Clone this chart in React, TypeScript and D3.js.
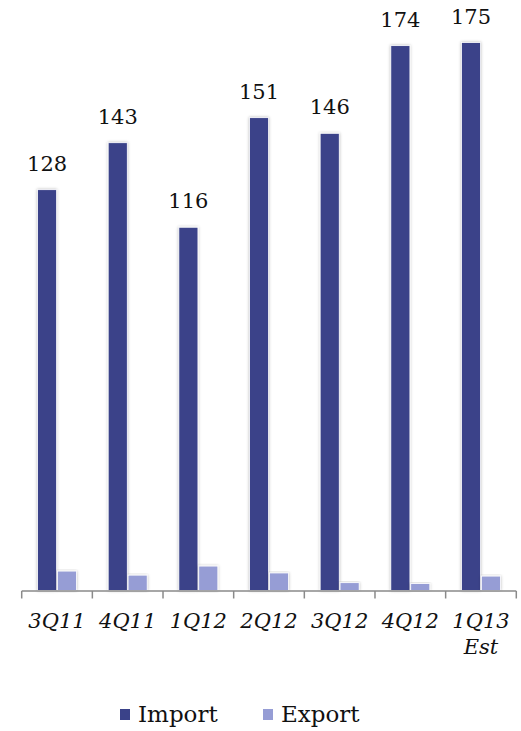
import React from "react";
import * as d3 from "d3";

// Quarterly volumes, import vs export
const categories: string[][] = [
  ["3Q11"],
  ["4Q11"],
  ["1Q12"],
  ["2Q12"],
  ["3Q12"],
  ["4Q12"],
  ["1Q13", "Est"],
];
const importValues = [128, 143, 116, 151, 146, 174, 175];
const exportValues = [6.2, 4.9, 7.8, 5.6, 2.5, 2.2, 4.6];
const seriesNames = ["Import", "Export"];
const seriesColors = ["#3a4289", "#969dd5"];

const W = 521;
const H = 731;
const FONT = "Georgia, 'DejaVu Serif', serif";

export default function App() {
  const margin = { left: 21.7, right: 5 };
  const baseY = 590.5;

  const x = d3
    .scaleBand<number>()
    .domain(d3.range(categories.length))
    .range([margin.left, W - margin.right + 0.3])
    .paddingInner(0)
    .paddingOuter(0);

  const inner = d3
    .scaleBand<number>()
    .domain([0, 1])
    .range([0, 39])
    .paddingInner(0.04);

  const y = d3.scaleLinear().domain([0, 175]).range([baseY, 42.5]);

  const bw = x.bandwidth();
  const groupOffset = (bw - 39) / 2;

  const series = [importValues, exportValues];

  return (
    <svg
      width={W}
      height={H}
      style={{ position: "absolute", left: 0, top: 0, background: "#fff" }}
    >
      <defs>
        <filter id="barGlow" x="-40%" y="-10%" width="180%" height="120%">
          <feDropShadow
            dx="0"
            dy="0"
            stdDeviation="1.6"
            floodColor="#000"
            floodOpacity="0.28"
          />
        </filter>
      </defs>

      {/* bars */}
      {categories.map((_, i) =>
        series.map((vals, s) => {
          const bx = (x(i) as number) + groupOffset + (inner(s) as number);
          const top = y(vals[i]);
          return (
            <rect
              key={`b-${i}-${s}`}
              x={bx}
              y={top}
              width={inner.bandwidth()}
              height={baseY - top}
              fill={seriesColors[s]}
              stroke="#fff"
              strokeWidth={0.8}
              filter="url(#barGlow)"
            />
          );
        })
      )}

      {/* value labels on import bars */}
      {importValues.map((v, i) => {
        const cx =
          (x(i) as number) + groupOffset + (inner(0) as number) + inner.bandwidth() / 2;
        return (
          <text
            key={`v-${i}`}
            x={cx}
            y={y(v) - 19}
            textAnchor="middle"
            fontFamily={FONT}
            fontSize={21}
            fill="#111"
          >
            {v}
          </text>
        );
      })}

      {/* x axis */}
      <line
        x1={x(0) as number}
        x2={(x(categories.length - 1) as number) + bw}
        y1={baseY + 0.5}
        y2={baseY + 0.5}
        stroke="#8a8a8a"
        strokeWidth={1.5}
      />
      {d3.range(categories.length + 1).map((i) => {
        const tx = i < categories.length ? (x(i) as number) : (x(i - 1) as number) + bw;
        return (
          <line
            key={`t-${i}`}
            x1={tx}
            x2={tx}
            y1={baseY + 0.5}
            y2={baseY + 8}
            stroke="#8a8a8a"
            strokeWidth={1.5}
          />
        );
      })}

      {/* category labels */}
      {categories.map((lines, i) => (
        <text
          key={`c-${i}`}
          x={(x(i) as number) + bw / 2}
          y={628}
          textAnchor="middle"
          fontFamily={FONT}
          fontStyle="italic"
          fontSize={21}
          fill="#111"
        >
          {lines.map((l, k) => (
            <tspan key={k} x={(x(i) as number) + bw / 2} dy={k === 0 ? 0 : 26}>
              {l}
            </tspan>
          ))}
        </text>
      ))}

      {/* legend */}
      {seriesNames.map((name, s) => {
        const lx = s === 0 ? 120 : 263;
        return (
          <g key={`l-${s}`}>
            <rect x={lx} y={709} width={10} height={11} fill={seriesColors[s]} />
            <text
              x={lx + 18}
              y={722}
              fontFamily={FONT}
              fontSize={23}
              fill="#111"
            >
              {name}
            </text>
          </g>
        );
      })}
    </svg>
  );
}
